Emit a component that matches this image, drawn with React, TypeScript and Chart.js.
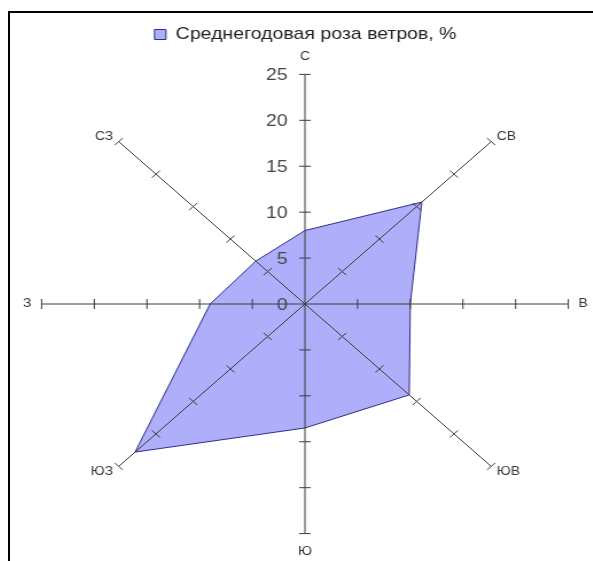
import React, { useEffect, useRef } from "react";
import { Chart, registerables } from "chart.js";

Chart.register(...registerables);

const directions = ["С", "СВ", "В", "ЮВ", "Ю", "ЮЗ", "З", "СЗ"];
const windValues = [8, 15.7, 10, 14, 13.5, 22.8, 9, 6.6];
const seriesLabel = "Среднегодовая роза ветров, %";
const scaleMin = 0;
const scaleMax = 25;
const scaleStep = 5;

const FONT = "'Liberation Sans', Arial, sans-serif";
const STRETCH = 1.147;

const legendShrinkPlugin = {
  id: "legendShrink",
  beforeInit(chart: any) {
    const legend = chart.legend;
    if (!legend) return;
    const origFit = legend.fit;
    legend.fit = function () {
      origFit.call(this);
      this.height -= 4;
    };
  },
};

const axisTicksPlugin = {
  id: "axisTicks",
  afterDraw(chart: any) {
    const scale = chart.scales.r;
    const ctx = chart.ctx;
    const n = chart.data.labels.length;
    ctx.save();
    ctx.strokeStyle = "#3c3c3c";
    ctx.lineWidth = 1;
    for (const t of scale.ticks) {
      if (t.value === 0) continue;
      const d = scale.getDistanceFromCenterForValue(t.value);
      for (let i = 0; i < n; i++) {
        const p = scale.getPointPosition(i, d);
        const px = -Math.sin(p.angle);
        const py = Math.cos(p.angle);
        ctx.beginPath();
        ctx.moveTo(p.x - px * 5, p.y - py * 5);
        ctx.lineTo(p.x + px * 5, p.y + py * 5);
        ctx.stroke();
      }
    }
    ctx.fillStyle = "#474747";
    ctx.font = `17px ${FONT}`;
    ctx.textAlign = "right";
    ctx.textBaseline = "middle";
    for (const t of scale.ticks) {
      const d = scale.getDistanceFromCenterForValue(t.value);
      const p = scale.getPointPosition(0, d);
      ctx.fillText(String(t.value), p.x - 15, p.y + 1);
    }
    ctx.restore();
  },
};

const isDiagonal = (i: number) => i % 2 === 1;
const isHorizontal = (i: number) => i === 2 || i === 6;

export default function App() {
  const canvasRef = useRef<HTMLCanvasElement | null>(null);

  useEffect(() => {
    if (!canvasRef.current) return;
    const chart = new Chart(canvasRef.current, {
      type: "radar",
      data: {
        labels: directions,
        datasets: [
          {
            label: seriesLabel,
            data: windValues,
            backgroundColor: "#aeaefa",
            borderColor: "#2e2e8a",
            borderWidth: 1,
            pointRadius: 0,
            fill: true,
          },
        ],
      },
      options: {
        animation: false,
        responsive: true,
        maintainAspectRatio: false,
        layout: { padding: 0 },
        plugins: {
          legend: {
            position: "top",
            labels: {
              boxWidth: 10,
              boxHeight: 10,
              padding: 10,
              color: "#222",
              font: { family: FONT, size: 17 },
            },
          },
          tooltip: { enabled: false },
        },
        scales: {
          r: {
            min: scaleMin,
            max: scaleMax,
            ticks: { display: false, stepSize: scaleStep },
            grid: { display: false, z: 1 },
            angleLines: { display: true, color: "#3c3c3c", lineWidth: 1 },
            pointLabels: {
              display: true,
              padding: (c: any) =>
                isDiagonal(c.index) ? 7 : isHorizontal(c.index) ? 9 : 11,
              color: "#333",
              font: (c: any) =>
                isDiagonal(c.index)
                  ? { family: FONT, size: 12, lineHeight: 0.05 }
                  : { family: FONT, size: 12 },
            },
          },
        },
      },
      plugins: [legendShrinkPlugin, axisTicksPlugin],
    });
    return () => chart.destroy();
  }, []);

  const W = 521;
  return (
    <div
      style={{
        position: "absolute",
        left: 0,
        top: 0,
        width: 593,
        height: 561,
        overflow: "hidden",
        background: "#fff",
      }}
    >
      <div
        style={{
          position: "absolute",
          left: 8,
          top: 11,
          width: 600,
          height: 600,
          borderLeft: "2px solid #000",
          borderTop: "2px solid #000",
        }}
      />
      <div
        style={{
          position: "absolute",
          left: 305.5 - W / 2,
          top: 16,
          width: W,
          height: 543,
          transform: `scaleX(${STRETCH})`,
          transformOrigin: "50% 50%",
        }}
      >
        <canvas ref={canvasRef} />
      </div>
    </div>
  );
}
